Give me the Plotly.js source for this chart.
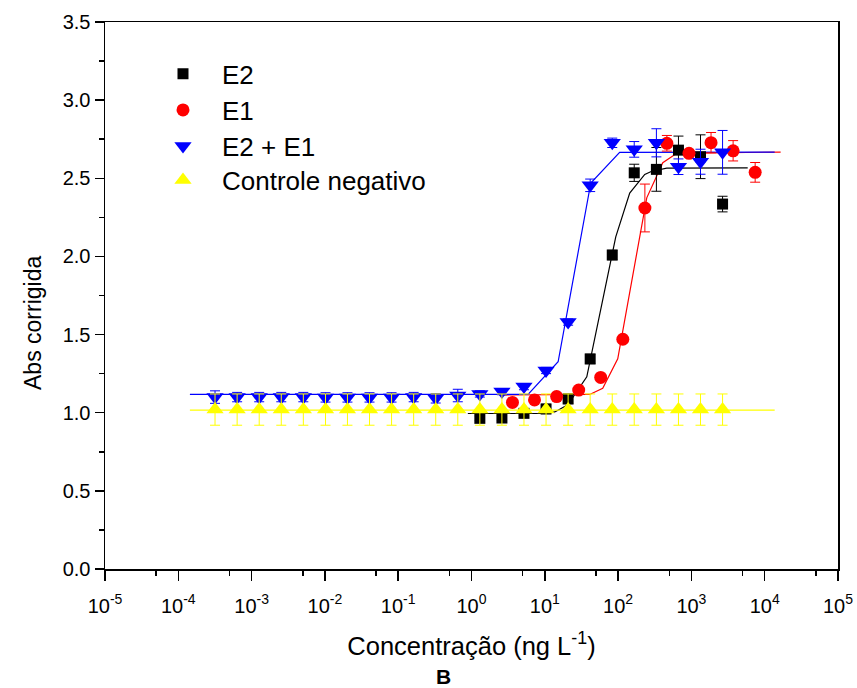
<!DOCTYPE html>
<html>
<head>
<meta charset="utf-8">
<script src="https://cdn.plot.ly/plotly-3.0.1.min.js"></script>
<style>html,body{margin:0;padding:0;background:#fff;}#chart{width:857px;height:688px;}</style>
</head>
<body>
<div id="chart"></div>
<script>
// ---- data ----
var concAll = [3.17e-4, 6.35e-4, 1.27e-3, 2.54e-3, 5.08e-3, 1.02e-2, 2.03e-2, 4.06e-2, 8.12e-2, 0.1625, 0.325, 0.650,
               1.30, 2.60, 5.20, 10.4, 20.8, 41.6, 83.2, 166, 333, 666, 1331, 2662];

var e2X   = [1.30, 2.60, 5.20, 10.4, 20.8, 41.6, 83.2, 166, 333, 666, 1331, 2662];
var e2Y   = [0.964, 0.966, 0.996, 1.024, 1.088, 1.344, 2.009, 2.535, 2.557, 2.680, 2.638, 2.335];
var e2Err = [0.015, 0.015, 0.015, 0.03, 0.03, 0.03, 0.03, 0.055, 0.14, 0.09, 0.14, 0.05];

var e1X   = [3.62, 7.24, 14.5, 29.0, 57.9, 116, 232, 463, 927, 1853, 3707, 7414];
var e1Y   = [1.066, 1.082, 1.103, 1.145, 1.226, 1.470, 2.310, 2.724, 2.660, 2.728, 2.676, 2.538];
var e1Err = [0.01, 0.01, 0.01, 0.01, 0.01, 0.01, 0.153, 0.05, 0.02, 0.065, 0.065, 0.063];

var mixY   = [1.100, 1.100, 1.100, 1.100, 1.100, 1.098, 1.098, 1.098, 1.098, 1.100, 1.092, 1.110,
              1.120, 1.135, 1.167, 1.270, 1.580, 2.455, 2.727, 2.685, 2.727, 2.574, 2.606, 2.666];
var mixErr = [0.04, 0.03, 0.03, 0.03, 0.03, 0.03, 0.03, 0.03, 0.03, 0.03, 0.03, 0.04,
              0.02, 0.02, 0.02, 0.02, 0.02, 0.04, 0.03, 0.05, 0.09, 0.05, 0.08, 0.14];

var negY   = [1.02, 1.02, 1.02, 1.02, 1.02, 1.02, 1.02, 1.02, 1.02, 1.02, 1.02, 1.02,
              1.02, 1.02, 1.02, 1.02, 1.02, 1.02, 1.02, 1.02, 1.02, 1.02, 1.02, 1.02];
var negErr = [0.10, 0.10, 0.10, 0.10, 0.10, 0.10, 0.10, 0.10, 0.10, 0.10, 0.10, 0.10,
              0.10, 0.10, 0.10, 0.10, 0.10, 0.10, 0.10, 0.10, 0.10, 0.10, 0.10, 0.10];

// fitted curves (as drawn in the reference)
var e2FitX  = [0.891, 8.54, 13.7, 20.6, 37.4, 92.9, 144, 231, 288, 461, 5860];
var e2FitY  = [0.995, 0.995, 1.005, 1.05, 1.23, 2.125, 2.405, 2.525, 2.545, 2.565, 2.567];
var e1FitX  = [2.43, 41.0, 61.7, 98.9, 246, 407, 631, 16500];
var e1FitY  = [1.113, 1.117, 1.157, 1.345, 2.375, 2.600, 2.660, 2.668];
var mixFitX = [1.44e-4, 5.91, 15.2, 42.4, 105, 13680];
var mixFitY = [1.117, 1.117, 1.326, 2.470, 2.666, 2.668];
var negFitX = [1.44e-4, 13680];
var negFitY = [1.017, 1.017];

var seriesNames = ['E2', 'E1', 'E2 + E1', 'Controle negativo'];
var xTickVals = [1e-5, 1e-4, 1e-3, 1e-2, 1e-1, 1e0, 1e1, 1e2, 1e3, 1e4, 1e5];
var xTickText = ['10<sup>-5</sup>', '10<sup>-4</sup>', '10<sup>-3</sup>', '10<sup>-2</sup>', '10<sup>-1</sup>',
                 '10<sup>0</sup>', '10<sup>1</sup>', '10<sup>2</sup>', '10<sup>3</sup>', '10<sup>4</sup>', '10<sup>5</sup>'];
var xMinorVals = [5e-5, 5e-4, 5e-3, 5e-2, 5e-1, 5e0, 5e1, 5e2, 5e3, 5e4];
var xTitle = 'Concentração (ng L<sup>-1</sup>)';
var yTitle = 'Abs corrigida';
var panelLabel = 'B';

// ---- styling ----
var FONT = 'Liberation Sans, Arial, sans-serif';
var cBlack = '#000000', cRed = '#ff0000', cBlue = '#0000ff', cYellow = '#ffff00';

function fit(x, y, color) {
  return {x: x, y: y, type: 'scatter', mode: 'lines', showlegend: false,
          line: {color: color, width: 1.2}, hoverinfo: 'skip'};
}
function pts(x, y, err, color, symbol, size, name, legendId) {
  return {x: x, y: y, type: 'scatter', mode: 'markers', name: name, legend: legendId,
          marker: {color: color, symbol: symbol, size: size, line: {width: 0}},
          error_y: {type: 'data', array: err, visible: true, color: color, thickness: 1, width: 5}};
}

var data = [
  fit(e2FitX, e2FitY, cBlack),
  fit(e1FitX, e1FitY, cRed),
  fit(mixFitX, mixFitY, cBlue),
  fit(negFitX, negFitY, cYellow),
  pts(e2X, e2Y, e2Err, cBlack, 'square', 11, seriesNames[0], 'legend'),
  pts(e1X, e1Y, e1Err, cRed, 'circle', 13, seriesNames[1], 'legend2'),
  pts(concAll, mixY, mixErr, cBlue, 'triangle-down', 15, seriesNames[2], 'legend3'),
  pts(concAll, negY, negErr, cYellow, 'triangle-up', 15, seriesNames[3], 'legend4')
];

function leg(yPaper) {
  return {x: 0.0532, xanchor: 'left', y: yPaper, yanchor: 'middle', itemwidth: 68,
          bgcolor: 'rgba(0,0,0,0)', borderwidth: 0, font: {family: FONT, size: 26, color: '#000'}};
}

var layout = {
  width: 857, height: 688,
  margin: {l: 105, r: 19, t: 22, b: 119, pad: 0},
  paper_bgcolor: '#fff', plot_bgcolor: '#fff',
  font: {family: FONT, color: '#000'},
  showlegend: true,
  legend: leg(0.905),
  legend2: leg(0.839),
  legend3: leg(0.7733),
  legend4: leg(0.711),
  xaxis: {
    type: 'log', range: [-5, 5], tickmode: 'array', tickvals: xTickVals, ticktext: xTickText,
    ticks: 'outside', ticklen: 10, tickwidth: 1.5, tickcolor: '#000', ticklabelstandoff: 8,
    minor: {tickmode: 'array', tickvals: xMinorVals, ticks: 'outside', ticklen: 5, tickwidth: 1.5, tickcolor: '#000'},
    showline: true, linewidth: 1.5, linecolor: '#000', mirror: true,
    showgrid: false, zeroline: false,
    tickfont: {family: FONT, size: 20, color: '#000'},
    title: {text: xTitle, font: {family: FONT, size: 25.5, color: '#000'}, standoff: 21}
  },
  yaxis: {
    range: [0, 3.5], tickmode: 'linear', tick0: 0, dtick: 0.5, tickformat: '.1f',
    ticks: 'outside', ticklen: 9, tickwidth: 1.5, tickcolor: '#000',
    minor: {dtick: 0.25, ticks: 'outside', ticklen: 5, tickwidth: 1.5, tickcolor: '#000'},
    showline: true, linewidth: 1.5, linecolor: '#000', mirror: true,
    showgrid: false, zeroline: false,
    tickfont: {family: FONT, size: 20, color: '#000'}
  },
  annotations: [{
    text: yTitle, xref: 'paper', yref: 'paper', x: (33 - 105) / 733, y: (569 - 323) / 547,
    xanchor: 'center', yanchor: 'middle', textangle: -90, showarrow: false,
    font: {family: FONT, size: 23, color: '#000'}
  }, {
    text: '<b>' + panelLabel + '</b>', xref: 'paper', yref: 'paper', x: (443 - 105) / 733, y: -(676 - 569) / 547,
    xanchor: 'center', yanchor: 'middle', showarrow: false,
    font: {family: FONT, size: 21, color: '#000'}
  }]
};

Plotly.newPlot('chart', data, layout, {staticPlot: true, displayModeBar: false});
</script>
</body>
</html>
